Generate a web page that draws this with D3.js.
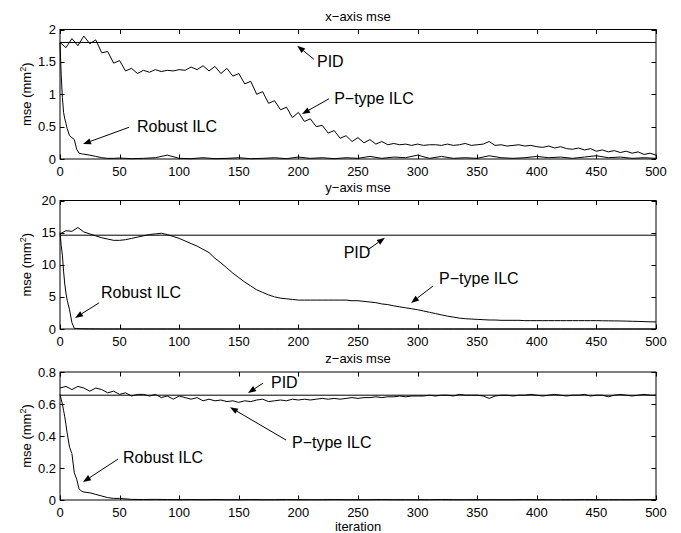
<!DOCTYPE html>
<html>
<head>
<meta charset="utf-8">
<script src="https://cdn.jsdelivr.net/npm/d3@7"></script>
<style>
  body { margin: 0; background: #fff; }
  svg { font-family: "Liberation Sans", Arial, Helvetica, sans-serif; }
  .tick-label { font-size: 13px; fill: #000; }
  .axis-title { font-size: 13px; fill: #000; }
  .note { font-size: 16px; fill: #000; }
  .curve { fill: none; stroke: #000; stroke-width: 1; }
</style>
</head>
<body>
<svg id="chart" width="681" height="533"></svg>
<script>
// iteration grids
const iterP = d3.range(0, 501, 5);
const iterR = [0,1,2,3,4,5,6,8,10,12,14,16,18,20,25,30,35,40,45,50,
  60,70,80,90,100,110,120,130,140,150,160,170,180,190,200,210,220,230,240,250,
  260,270,280,290,300,310,320,330,340,350,360,370,380,390,400,410,420,430,440,450,
  460,470,480,490,500];

const xTicks = d3.range(0, 501, 50);

// x-axis mse
const pidX = 1.8;
const ptypeX = [1.80,1.72,1.86,1.75,1.90,1.78,1.84,1.64,1.66,1.48,1.52,1.36,1.40,1.32,1.37,1.34,1.38,1.35,1.37,1.36,
  1.38,1.37,1.42,1.38,1.44,1.36,1.43,1.32,1.40,1.28,1.32,1.16,1.20,1.00,1.04,0.86,0.90,0.76,0.80,0.64,
  0.72,0.58,0.62,0.50,0.52,0.40,0.44,0.32,0.36,0.27,0.33,0.25,0.30,0.23,0.27,0.22,0.24,0.22,0.23,0.21,
  0.23,0.21,0.22,0.22,0.21,0.23,0.21,0.22,0.24,0.21,0.22,0.23,0.27,0.21,0.22,0.20,0.21,0.22,0.20,0.21,
  0.19,0.18,0.20,0.17,0.19,0.16,0.15,0.17,0.14,0.16,0.12,0.14,0.11,0.13,0.10,0.12,0.09,0.11,0.07,0.09,0.06];
const robustX = [1.80,1.30,0.95,0.72,0.62,0.55,0.47,0.36,0.33,0.30,0.15,0.09,0.08,0.075,0.06,0.04,0.02,0.01,0.01,0.015,
  0.005,0.01,0.02,0.06,0.01,0.005,0.02,0.005,0.01,0.02,0.005,0.01,0.02,0.005,0.03,0.01,0.02,0.005,0.02,0.01,
  0.04,0.01,0.03,0.02,0.06,0.01,0.04,0.01,0.02,0.01,0.05,0.02,0.01,0.02,0.04,0.02,0.03,0.01,0.03,0.05,
  0.02,0.03,0.01,0.02,0.01];
const yTicksX = [0, 0.5, 1, 1.5, 2];

// y-axis mse
const pidY = 14.6;
const ptypeY = [14.8,15.3,15.2,15.8,15.1,14.8,14.5,14.2,14.0,13.8,13.8,13.9,14.1,14.3,14.5,14.7,14.8,14.9,14.7,14.4,
  14.1,13.7,13.3,12.9,12.4,11.9,11.0,10.3,9.5,8.7,8.0,7.3,6.7,6.1,5.7,5.3,5.0,4.8,4.7,4.6,
  4.5,4.5,4.5,4.5,4.5,4.5,4.5,4.5,4.5,4.4,4.4,4.3,4.2,4.1,3.9,3.8,3.6,3.45,3.3,3.15,
  3.0,2.8,2.6,2.4,2.2,2.0,1.85,1.7,1.6,1.55,1.5,1.45,1.4,1.4,1.35,1.35,1.35,1.35,1.3,1.3,
  1.3,1.3,1.3,1.3,1.3,1.3,1.3,1.3,1.3,1.3,1.3,1.28,1.27,1.26,1.25,1.23,1.2,1.18,1.15,1.12,1.1];
const robustY = [15,13,11.5,9,7,5.6,4.5,3,1,0.1,0.08,0.05,0.04,0.03,0.02,0.01,0,0,0,0,
  0,0,0,0,0,0,0,0,0,0,0,0,0,0,0,0,0,0,0,0,
  0,0,0,0,0,0,0,0,0,0,0,0,0,0,0,0,0,0,0,0,
  0,0,0,0,0];
const yTicksY = [0, 5, 10, 15, 20];

// z-axis mse
const pidZ = 0.655;
const ptypeZ = [0.70,0.71,0.69,0.71,0.70,0.68,0.70,0.69,0.67,0.68,0.66,0.67,0.65,0.66,0.66,0.65,0.66,0.64,0.65,0.63,
  0.65,0.64,0.63,0.64,0.62,0.63,0.62,0.625,0.615,0.62,0.61,0.62,0.615,0.625,0.63,0.615,0.62,0.625,0.62,0.63,
  0.625,0.63,0.625,0.63,0.635,0.63,0.635,0.63,0.635,0.64,0.635,0.64,0.64,0.645,0.64,0.645,0.645,0.65,0.645,0.65,
  0.65,0.65,0.655,0.65,0.655,0.655,0.65,0.66,0.655,0.655,0.655,0.65,0.635,0.65,0.655,0.655,0.65,0.655,0.655,0.66,
  0.655,0.65,0.655,0.66,0.655,0.65,0.655,0.655,0.66,0.65,0.655,0.655,0.645,0.655,0.66,0.655,0.65,0.655,0.66,0.655,0.655];
const robustZ = [0.66,0.63,0.60,0.56,0.52,0.47,0.42,0.33,0.29,0.17,0.13,0.07,0.055,0.05,0.045,0.035,0.025,0.015,0.01,0.01,
  0.004,0.003,0.004,0.003,0.002,0.003,0.002,0.003,0.002,0.002,0.003,0.002,0.002,0.003,0.002,0.002,0.002,0.003,0.002,0.002,
  0.002,0.003,0.002,0.002,0.002,0.002,0.003,0.002,0.002,0.002,0.002,0.002,0.002,0.003,0.002,0.002,0.002,0.002,0.003,0.002,
  0.002,0.002,0.002,0.003,0.002];
const yTicksZ = [0, 0.2, 0.4, 0.6, 0.8];

const svg = d3.select("#chart");
const margin = {left: 60, right: 25};
const width = 681 - margin.left - margin.right;

const x = d3.scaleLinear().domain([0, 500]).range([margin.left, margin.left + width]);

const panels = [
  {title: "x\u2212axis mse", top: 29.5, h: 129.5, ymax: 2, ticks: yTicksX, fmt: d => d3.format("~g")(d),
   pid: pidX, ptype: ptypeX, robust: robustX,
   notes: [
     {text: "PID", tx: 215.6, ty: 1.42, from: [213, 1.54], to: [199, 1.75]},
     {text: "P\u2212type ILC", tx: 230, ty: 0.85, from: [225.7, 0.93], to: [203, 0.695]},
     {text: "Robust ILC", tx: 64.6, ty: 0.42, from: [57.9, 0.49], to: [19.3, 0.23]}
   ]},
  {title: "y\u2212axis mse", top: 200.5, h: 128.5, ymax: 20, ticks: yTicksY, fmt: d => d,
   pid: pidY, ptype: ptypeY, robust: robustY,
   notes: [
     {text: "PID", tx: 238, ty: 11.1, from: [258, 12.3], to: [272.6, 14.2]},
     {text: "P\u2212type ILC", tx: 318, ty: 7.0, from: [313, 6.7], to: [294.5, 4.06]},
     {text: "Robust ILC", tx: 34.4, ty: 4.84, from: [32.7, 4.06], to: [12.6, 1.72]}
   ]},
  {title: "z\u2212axis mse", top: 372, h: 128, ymax: 0.8, ticks: yTicksZ, fmt: d => d3.format("~g")(d),
   pid: pidZ, ptype: ptypeZ, robust: robustZ,
   notes: [
     {text: "PID", tx: 177, ty: 0.70, from: [170.3, 0.73], to: [157.7, 0.669]},
     {text: "P\u2212type ILC", tx: 194.6, ty: 0.325, from: [189.6, 0.375], to: [142.6, 0.58]},
     {text: "Robust ILC", tx: 52.9, ty: 0.23, from: [48.7, 0.256], to: [19.3, 0.1125]}
   ]}
];

const tickLen = 4.5;

panels.forEach(p => {
  const y = d3.scaleLinear().domain([0, p.ymax]).range([p.top + p.h, p.top]);
  const g = svg.append("g");

  const line = (xs, ys) => d3.line().x((d, i) => x(xs[i])).y(d => y(d))(ys);

  // curves
  g.append("path").attr("class", "curve").attr("d", line(iterP, p.ptype));
  g.append("path").attr("class", "curve").attr("d", line(iterR, p.robust));
  g.append("line")
    .attr("x1", x(0)).attr("x2", x(500))
    .attr("y1", y(p.pid)).attr("y2", y(p.pid))
    .attr("stroke", "#000").attr("stroke-width", 1);

  // box
  g.append("rect")
    .attr("x", x(0)).attr("y", p.top)
    .attr("width", x(500) - x(0)).attr("height", p.h)
    .attr("fill", "none").attr("stroke", "#000").attr("stroke-width", 1);

  // x ticks, inward top and bottom
  xTicks.forEach(t => {
    const xx = Math.round(x(t)) + 0.5;
    g.append("line").attr("x1", xx).attr("x2", xx)
      .attr("y1", p.top + p.h).attr("y2", p.top + p.h - tickLen).attr("stroke", "#000");
    g.append("line").attr("x1", xx).attr("x2", xx)
      .attr("y1", p.top).attr("y2", p.top + tickLen).attr("stroke", "#000");
    g.append("text").attr("class", "tick-label")
      .attr("x", x(t)).attr("y", p.top + p.h + 17)
      .attr("text-anchor", "middle").text(t);
  });

  // y ticks, inward left and right
  p.ticks.forEach(t => {
    const yy = Math.round(y(t)) + 0.5;
    g.append("line").attr("x1", x(0)).attr("x2", x(0) + tickLen)
      .attr("y1", yy).attr("y2", yy).attr("stroke", "#000");
    g.append("line").attr("x1", x(500)).attr("x2", x(500) - tickLen)
      .attr("y1", yy).attr("y2", yy).attr("stroke", "#000");
    g.append("text").attr("class", "tick-label")
      .attr("x", x(0) - 4).attr("y", y(t) + 4.5)
      .attr("text-anchor", "end").text(p.fmt(t));
  });

  // title
  g.append("text").attr("class", "axis-title")
    .attr("x", (x(0) + x(500)) / 2).attr("y", p.top - 9)
    .attr("text-anchor", "middle").text(p.title);

  // y label
  const yl = g.append("text").attr("class", "axis-title")
    .attr("transform", `translate(31,${p.top + p.h / 2}) rotate(-90)`)
    .attr("text-anchor", "middle");
  yl.append("tspan").text("mse (mm");
  yl.append("tspan").attr("dy", -5).attr("font-size", "9px").text("2");
  yl.append("tspan").attr("dy", 5).text(")");

  // annotations
  p.notes.forEach(n => {
    const x1 = x(n.from[0]), y1 = y(n.from[1]);
    const x2 = x(n.to[0]), y2 = y(n.to[1]);
    const ang = Math.atan2(y2 - y1, x2 - x1);
    const hl = 8, hw = 3;
    const bx = x2 - hl * Math.cos(ang), by = y2 - hl * Math.sin(ang);
    g.append("line").attr("x1", x1).attr("y1", y1).attr("x2", bx).attr("y2", by)
      .attr("stroke", "#000").attr("stroke-width", 1);
    g.append("path")
      .attr("d", `M${x2},${y2}L${bx + hw * Math.sin(ang)},${by - hw * Math.cos(ang)}L${bx - hw * Math.sin(ang)},${by + hw * Math.cos(ang)}Z`)
      .attr("fill", "#000");
    g.append("text").attr("class", "note")
      .attr("x", x(n.tx)).attr("y", y(n.ty)).text(n.text);
  });
});

svg.append("text").attr("class", "axis-title")
  .attr("x", (x(0) + x(500)) / 2).attr("y", 531)
  .attr("text-anchor", "middle").text("iteration");
</script>
</body>
</html>
